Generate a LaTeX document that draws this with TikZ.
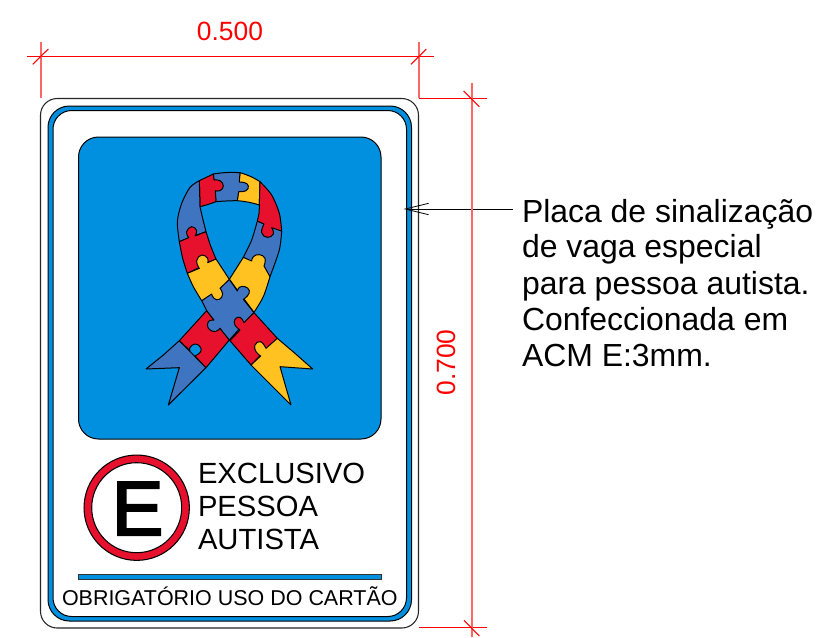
\documentclass[tikz,border=0pt]{standalone}
\usepackage{fontspec}
\setmainfont{Liberation Sans}
\newfontfamily\efont[FakeBold=3]{Liberation Sans}
\usetikzlibrary{arrows.meta}
\definecolor{signblue}{RGB}{0,144,223}
\definecolor{rblue}{RGB}{63,116,192}
\definecolor{rred}{RGB}{232,17,45}
\definecolor{ryellow}{RGB}{255,194,32}
\tikzset{
  x=.75pt,y=-.75pt,
  dimline/.style={draw=red,line width=.75pt},
  dimvert/.style={draw=red!60,line width=1.5pt},
  outline/.style={draw=black,line width=.75pt,line join=round},
  piece/.style={outline,fill=#1},
  lbl/.style={anchor=base west,inner sep=0pt,outer sep=0pt,text=black},
  dimlbl/.style={inner sep=0pt,text=red,font=\fontsize{19.8}{22}\selectfont},
}
\begin{document}
\begin{tikzpicture}
\useasboundingbox (0,0) rectangle (819,637);
\fill[white] (0,0) rectangle (819,637);
% sign
\draw[draw=black!85,line width=.8pt,fill=white,rounded corners=12.5pt] (40.5,98.5) rectangle (418.5,628);
\draw[outline,fill=signblue,rounded corners=16pt] (48,106) rectangle (411.5,621);
\draw[outline,fill=white,rounded corners=14pt] (53,110.5) rectangle (406.5,616.5);
\draw[outline,fill=signblue,rounded corners=15pt] (78.5,137) rectangle (381,439);
% ribbon
\begin{scope}[shift={(140,160)},x=.25pt,y=-.25pt]
\path[piece=ryellow] (300,38) to[bend left=8] (360,65) -- (358,135) to[bend right=6] (292,122) -- cycle;
\path[piece=rblue] (220,42) to[bend left=6] (300,38) -- plot[smooth,tension=.8] coordinates {(298,66) (314,68) (325,78) (318,92) (296,95)} -- (292,122) to[bend right=2] (228,125) -- cycle;
\path[piece=rred] (178,62) -- (220,42) -- plot[smooth,tension=.8] coordinates {(222,60) (240,62) (250,78) (240,92) (226,92)} -- (228,125) to[bend left=3] (180,140) -- cycle;
\path[piece=rblue] plot[smooth] coordinates {(178,62) (150,82) (125,130) (112,185) (118,245)} -- (198,215) -- plot[smooth] coordinates {(198,215) (188,175) (180,140)} -- cycle;
\path[piece=rred] (118,245) -- plot[smooth,tension=.8] coordinates {(146,233) (140,215) (155,200) (170,212) (165,228)} -- (198,215) -- plot[smooth] coordinates {(198,215) (212,258) (228,297)} -- (142,340) -- plot[smooth] coordinates {(142,340) (128,295) (118,245)} -- cycle;
\path[piece=rblue] (352,183) -- (425,213) -- plot[smooth] coordinates {(425,213) (418,270) (390,350)} -- (310,292) -- plot[smooth] coordinates {(310,292) (335,240) (352,183)} -- cycle;
\path[piece=rred] plot[smooth] coordinates {(360,65) (395,105) (418,160) (425,213)} -- plot[smooth,tension=.8] coordinates {(395,203) (400,222) (382,232) (365,218) (372,192)} -- (352,183) -- plot[smooth] coordinates {(352,183) (357,160) (358,135)} -- cycle;
\path[piece=rblue] (118,542) -- (70,585) -- (18,627) -- (118,623) -- (85,735) -- (198,623) -- cycle;
\path[piece=rred] (200,452) -- (118,542) -- plot[smooth,tension=.8] coordinates {(150,572) (150,562) (165,552) (180,560) (182,575) (165,588)} -- (198,623) -- (268,540) -- cycle;
\path[piece=ryellow] (268,358) -- (310,292) -- plot[smooth,tension=.8] coordinates {(335,303) (340,290) (358,284) (375,295) (372,318)} -- (390,350) -- plot[smooth] coordinates {(390,350) (370,410) (342,457)} -- cycle;
\path[piece=rblue] (268,358) -- plot[smooth,tension=.8] coordinates {(292,393) (298,382) (315,380) (328,392) (322,408) (310,418)} -- (342,458) -- (268,540) -- plot[smooth,tension=.8] coordinates {(240,505) (225,515) (205,505) (205,485) (222,480)} -- (200,452) -- (185,422) -- cycle;
\path[piece=ryellow] (142,340) -- plot[smooth,tension=.8] coordinates {(178,325) (170,302) (185,285) (203,295) (203,308)} -- (228,297) -- (268,358) -- plot[smooth,tension=.8] coordinates {(240,385) (248,402) (238,418) (222,415) (215,402)} -- (185,422) -- plot[smooth] coordinates {(185,422) (160,380) (142,340)} -- cycle;
\path[piece=rred] (342,458) -- (412,535) -- (333,615) -- (270,542) -- plot[smooth,tension=.8] coordinates {(300,510) (285,495) (285,478) (300,472) (312,488)} -- cycle;
\path[piece=ryellow] (412,535) -- (465,580) -- (518,627) -- (420,620) -- (453,735) -- (333,615) -- plot[smooth,tension=.8] coordinates {(362,588) (348,575) (345,555) (362,545) (378,565)} -- cycle;
\end{scope}
% E symbol
\node[draw=black,line width=.8pt,fill=rred,circle,minimum size=79pt,inner sep=0pt] (ering) at (136.7,507.7) {};
\node[draw=black,line width=.8pt,fill=white,circle,minimum size=67.5pt,inner sep=0pt] (einner) at (136.7,507.7) {};
\node[lbl,font=\efont\fontsize{57.6}{60}\selectfont] (ebig) at (112,535) {E};
% sign texts
\node[lbl,font=\fontsize{21.9}{24}\selectfont] (t1) at (198,483) {EXCLUSIVO};
\node[lbl,font=\fontsize{21.9}{24}\selectfont] (t2) at (198,516) {PESSOA};
\node[lbl,font=\fontsize{21.9}{24}\selectfont] (t3) at (198,549) {AUTISTA};
\draw[line width=.6pt,draw=black!80,fill=signblue] (78.3,574.7) rectangle (381.5,579) ;
\node[lbl,font=\fontsize{16.1}{18}\selectfont] (t4) at (62,605) {OBRIGATÓRIO USO DO CARTÃO};
% note
\node[lbl,font=\fontsize{23.95}{26}\selectfont] (n1) at (522,222) {Placa de sinalização};
\node[lbl,font=\fontsize{23.95}{26}\selectfont] (n2) at (522,257.5) {de vaga especial};
\node[lbl,font=\fontsize{23.95}{26}\selectfont] (n3) at (522,294) {para pessoa autista.};
\node[lbl,font=\fontsize{23.95}{26}\selectfont] (n4) at (522,330.5) {Confeccionada em};
\node[lbl,font=\fontsize{23.95}{26}\selectfont] (n5) at (522,366) {ACM E:3mm.};
\coordinate (leadstart) at (513,209);
\coordinate (leadtip) at (403.5,209);
\draw[line width=.6pt,-{Straight Barb[length=17.5pt,width=8.5pt,line width=.6pt]}] (leadstart) -- (leadtip);
% dimensions
\coordinate (da) at (27,56); \coordinate (db) at (434,56);
\draw[dimline] (da) -- (db);
\coordinate (e1a) at (40.8,42); \coordinate (e1b) at (40.8,98);
\coordinate (e2a) at (418.8,42); \coordinate (e2b) at (418.8,98);
\draw[dimvert] (e1a) -- (e1b);
\draw[dimvert] (e2a) -- (e2b);
\coordinate (t1a) at (32.7,64.3); \coordinate (t1b) at (48.3,49);
\coordinate (t2a) at (411,64.3); \coordinate (t2b) at (426.3,49);
\draw[dimline,line width=.8pt] (t1a) -- (t1b);
\draw[dimline,line width=.8pt] (t2a) -- (t2b);
\node[dimlbl,anchor=base] (w) at (230,40.5) {0.500};
\coordinate (h1a) at (418.5,98.3); \coordinate (h1b) at (486.7,98.3);
\coordinate (h2a) at (418.5,627.7); \coordinate (h2b) at (486.7,627.7);
\draw[dimline] (h1a) -- (h1b);
\draw[dimline] (h2a) -- (h2b);
\coordinate (va) at (471.5,83); \coordinate (vb) at (471.5,637);
\draw[dimvert] (va) -- (vb);
\coordinate (t3a) at (463.7,91); \coordinate (t3b) at (479.3,106.7);
\coordinate (t4a) at (464,620.3); \coordinate (t4b) at (479.3,636);
\draw[dimline,line width=.8pt] (t3a) -- (t3b);
\draw[dimline,line width=.8pt] (t4a) -- (t4b);
\node[dimlbl,anchor=base,rotate=90] (h) at (455,362.5) {0.700};
\end{tikzpicture}
\end{document}
